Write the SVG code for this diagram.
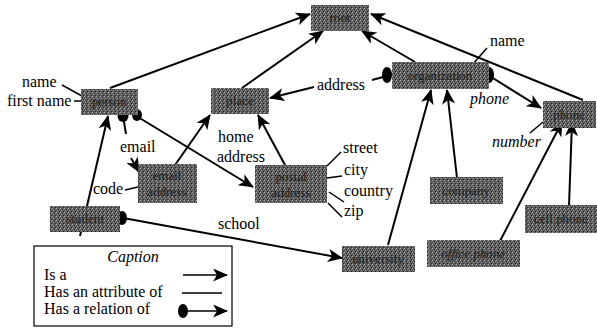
<svg xmlns="http://www.w3.org/2000/svg" width="597" height="328" viewBox="0 0 597 328">
<defs>
<marker id="arr" markerUnits="userSpaceOnUse" markerWidth="15" markerHeight="13" refX="14" refY="6.5" orient="auto">
<path d="M0,0 L15,6.5 L0,13 L4,6.5 z" fill="#000"/>
</marker>
<pattern id="noise" width="4" height="4" patternUnits="userSpaceOnUse">
<rect width="4" height="4" fill="#5c5c5c"/>
<rect x="0" y="0" width="1" height="1" fill="#a8a8a8"/>
<rect x="2" y="1" width="1" height="1" fill="#222"/>
<rect x="1" y="2" width="1" height="1" fill="#999"/>
<rect x="3" y="3" width="1" height="1" fill="#2a2a2a"/>
<rect x="3" y="1" width="1" height="1" fill="#888"/>
</pattern>
</defs>
<style>
.box{fill:url(#noise)}
.nt{font-family:"Liberation Serif","Times New Roman",serif;font-size:13px;fill:#1c1c1c;text-anchor:middle}
.lbl{font-family:"Liberation Serif","Times New Roman",serif;font-size:16px;fill:#000}
.it{font-style:italic}
.isa{stroke:#000;stroke-width:2;fill:none;marker-end:url(#arr)}
.attr{stroke:#000;stroke-width:1.5;fill:none}
.rel{stroke:#000;stroke-width:2;fill:none}
.dot{fill:#000}
</style>
<rect width="597" height="328" fill="#fff"/>

<g id="connectors">
<!-- is-a -->
<line class="isa" x1="110" y1="88" x2="310" y2="14"/>
<line class="isa" x1="242" y1="88" x2="323" y2="31"/>
<line class="isa" x1="415" y1="62" x2="362" y2="31"/>
<line class="isa" x1="583" y1="100" x2="371" y2="14"/>
<line class="isa" x1="80" y1="236" x2="108" y2="116"/>
<line class="isa" x1="175" y1="165" x2="210" y2="115"/>
<line class="isa" x1="285" y1="165" x2="258" y2="115"/>
<line class="isa" x1="388" y1="245" x2="431" y2="90"/>
<line class="isa" x1="457" y1="178" x2="447" y2="90"/>
<line class="isa" x1="500" y1="241" x2="562" y2="122"/>
<line class="isa" x1="569" y1="206" x2="572" y2="122"/>
<!-- relations -->
<line class="rel" x1="123" y1="116" x2="126" y2="134"/>
<line class="isa" x1="131" y1="158" x2="139" y2="172"/>
<line class="isa" x1="138" y1="117" x2="253" y2="187"/>
<line class="rel" x1="387" y1="76" x2="372" y2="80"/>
<line class="isa" x1="314" y1="87" x2="270" y2="98"/>
<line class="isa" x1="488" y1="75" x2="541" y2="108"/>
<line class="isa" x1="123" y1="218" x2="342" y2="258"/>
<!-- attributes -->
<line class="attr" x1="62" y1="85" x2="82" y2="96"/>
<line class="attr" x1="74" y1="101" x2="82" y2="101"/>
<line class="attr" x1="125" y1="190" x2="138" y2="187"/>
<line class="attr" x1="487" y1="48" x2="472" y2="65"/>
<line class="attr" x1="530" y1="133" x2="543" y2="122"/>
<line class="attr" x1="327" y1="166" x2="341" y2="152"/>
<line class="attr" x1="327" y1="178" x2="342" y2="176"/>
<line class="attr" x1="329" y1="192" x2="344" y2="202"/>
<line class="attr" x1="328" y1="203" x2="342" y2="217"/>
<!-- dots -->
<ellipse class="dot" cx="123" cy="116" rx="5.5" ry="6"/>
<ellipse class="dot" cx="137" cy="115" rx="5" ry="6"/>
<ellipse class="dot" cx="387" cy="75" rx="5" ry="8"/>
<ellipse class="dot" cx="489" cy="75" rx="5" ry="8"/>
<ellipse class="dot" cx="122" cy="218" rx="5" ry="7"/>
</g>

<g id="root"><rect class="box" x="311" y="5" width="58" height="26"/><text class="nt" x="340" y="22">root</text></g>
<g id="person"><rect class="box" x="81" y="89" width="57" height="26"/><text class="nt" x="109" y="106">person</text></g>
<g id="place"><rect class="box" x="211" y="88" width="58" height="26"/><text class="nt" x="240" y="105">place</text></g>
<g id="organization"><rect class="box" x="392" y="62" width="97" height="27"/><text class="nt" x="440" y="80">organization</text></g>
<g id="phone"><rect class="box" x="543" y="101" width="53" height="27"/><text class="nt" x="569" y="119">phone</text></g>
<g id="email-address"><rect class="box" x="138" y="164" width="59" height="39"/><text class="nt" x="167" y="180">email</text><text class="nt" x="167" y="196">address</text></g>
<g id="postal-address"><rect class="box" x="255" y="165" width="72" height="38"/><text class="nt" x="291" y="181">postal</text><text class="nt" x="291" y="197">address</text></g>
<g id="student"><rect class="box" x="50" y="206" width="70" height="26"/><text class="nt" x="85" y="223">student</text></g>
<g id="university"><rect class="box" x="342" y="246" width="73" height="26"/><text class="nt" x="378" y="263">university</text></g>
<g id="company"><rect class="box" x="430" y="177" width="73" height="27"/><text class="nt" x="466" y="195">company</text></g>
<g id="office-phone"><rect class="box" x="427" y="240" width="93" height="27"/><text class="nt it" x="473" y="258">office phone</text></g>
<g id="cell-phone"><rect class="box" x="525" y="205" width="72" height="28"/><text class="nt" x="561" y="223">cell phone</text></g>

<g id="labels">
<text class="lbl" x="22" y="87">name</text>
<text class="lbl" x="7" y="106">first name</text>
<text class="lbl" x="120" y="152">email</text>
<text class="lbl" x="93" y="194">code</text>
<text class="lbl" x="218" y="142">home</text>
<text class="lbl" x="217" y="162">address</text>
<text class="lbl" x="218" y="229">school</text>
<text class="lbl" x="317" y="90">address</text>
<text class="lbl" x="490" y="46">name</text>
<text class="lbl it" x="470" y="104">phone</text>
<text class="lbl it" x="492" y="147">number</text>
<text class="lbl" x="343" y="153">street</text>
<text class="lbl" x="344" y="175">city</text>
<text class="lbl" x="344" y="196">country</text>
<text class="lbl" x="344" y="216">zip</text>
</g>

<g id="caption">
<rect x="34" y="246" width="198" height="80" fill="#fff" stroke="#000" stroke-width="1.2"/>
<text class="lbl it" x="133" y="262" text-anchor="middle">Caption</text>
<text class="lbl" x="44" y="280">Is a</text>
<text class="lbl" x="44" y="297">Has an attribute of</text>
<text class="lbl" x="44" y="314">Has a relation of</text>
<line class="isa" x1="183" y1="275" x2="227" y2="275" style="stroke-width:1.5"/>
<line class="attr" x1="182" y1="293" x2="222" y2="293"/>
<ellipse class="dot" cx="183" cy="311" rx="5" ry="7"/>
<line class="isa" x1="183" y1="311" x2="227" y2="311" style="stroke-width:1.5"/>
</g>
</svg>
